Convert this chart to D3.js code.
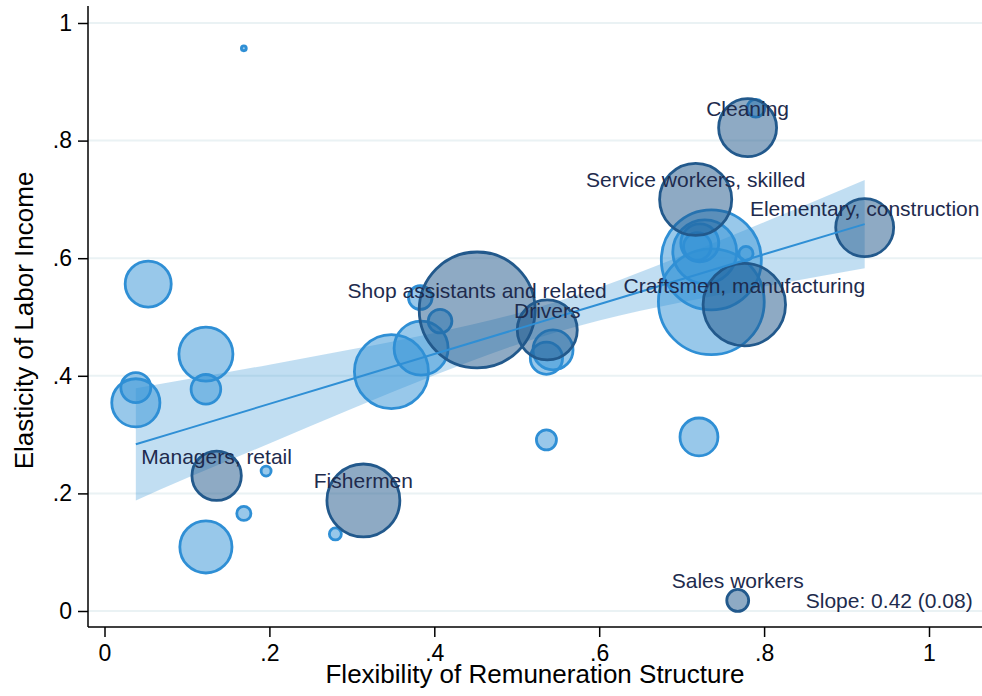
<!DOCTYPE html>
<html lang="en">
<head>
  <meta charset="UTF-8">
  <title>Elasticity of Labor Income vs Flexibility</title>
  <script src="https://d3js.org/d3.v7.min.js"></script>
  <style>
    body { margin: 0; background: #fff; }
    svg { display: block; font-family: "Liberation Sans", Arial, sans-serif; }
  </style>
</head>
<body>
  <svg id="chart" width="982" height="696"></svg>

  <script>
    // unlabeled occupations (light bubbles)
    const otherX = [0.169, 0.053, 0.038, 0.038, 0.123, 0.123, 0.196, 0.169, 0.123, 0.280,
                    0.536, 0.721, 0.348, 0.384, 0.383, 0.407, 0.536, 0.544,
                    0.736, 0.736, 0.728, 0.722, 0.719, 0.778, 0.790];
    const otherY = [0.957, 0.556, 0.380, 0.354, 0.437, 0.377, 0.238, 0.166, 0.109, 0.131,
                    0.291, 0.296, 0.407, 0.447, 0.533, 0.493, 0.430, 0.444,
                    0.597, 0.526, 0.611, 0.626, 0.620, 0.608, 0.855];
    const otherW = [0.06, 5.3, 2.25, 5.8, 7.3, 2.2, 0.25, 0.5, 6.8, 0.36,
                    1.0, 3.6, 13.7, 7.3, 1.4, 1.4, 2.6, 4.0,
                    25, 28, 10.2, 3.6, 1.9, 0.5, 0.8];

    // labeled occupations (dark bubbles)
    const namedLabels = ["Shop assistants and related", "Drivers", "Managers, retail", "Fishermen",
                         "Sales workers", "Cleaning", "Service workers, skilled",
                         "Elementary, construction", "Craftsmen, manufacturing"];
    const namedX = [0.452, 0.537, 0.136, 0.314, 0.768, 0.780, 0.717, 0.922, 0.776];
    const namedY = [0.512, 0.478, 0.230, 0.188, 0.018, 0.822, 0.700, 0.652, 0.521];
    const namedW = [33.6, 9.0, 6.1, 13.3, 1.2, 8.4, 13.0, 8.4, 17.0];

    // fitted line and 95% band
    const bandX  = [0.038, 0.1, 0.2, 0.3, 0.4, 0.5, 0.6, 0.7, 0.8, 0.922];
    const bandLo = [0.188, 0.226, 0.285, 0.344, 0.401, 0.453, 0.494, 0.525, 0.552, 0.583];
    const bandHi = [0.379, 0.394, 0.419, 0.445, 0.473, 0.506, 0.550, 0.604, 0.661, 0.733];
    const fitY   = [0.2835, 0.3098, 0.3522, 0.3946, 0.437, 0.4794, 0.5218, 0.5642, 0.6066, 0.658];

    const slopeNote = "Slope: 0.42 (0.08)";
    const slopeAt = [1.053, 0.005];

    const xTicks = [0, 0.2, 0.4, 0.6, 0.8, 1];
    const yTicks = [0, 0.2, 0.4, 0.6, 0.8, 1];
    const xTitle = "Flexibility of Remuneration Structure";
    const yTitle = "Elasticity of Labor Income";

    const svg = d3.select("#chart");
    const W = 982, H = 696;
    const plot = { left: 88, top: 6, bottom: 627, right: W };

    const x = d3.scaleLinear().domain([0, 1]).range([104.5, 929]);
    const y = d3.scaleLinear().domain([0, 1]).range([611, 23]);
    const r = d3.scaleSqrt().domain([0, 1]).range([0, 10]);

    const fmt = d => d === 0 ? "0" : d === 1 ? "1" : String(d).replace(/^0/, "");

    const lightFill = "rgb(49,145,213)", lightStroke = "#2f8fd5";
    const darkFill = "rgb(29,85,137)", darkStroke = "#22598c";
    const textColor = "#1e2b4d";

    // gridlines
    svg.append("g")
      .selectAll("line")
      .data(yTicks)
      .join("line")
      .attr("x1", plot.left).attr("x2", plot.right)
      .attr("y1", d => y(d)).attr("y2", d => y(d))
      .attr("stroke", "#eaf2f4")
      .attr("stroke-width", 2);

    // confidence band
    const band = bandX.map((v, i) => ({ x: v, lo: bandLo[i], hi: bandHi[i], fit: fitY[i] }));
    svg.append("path")
      .datum(band)
      .attr("d", d3.area().x(d => x(d.x)).y0(d => y(d.lo)).y1(d => y(d.hi)).curve(d3.curveMonotoneX))
      .attr("fill", lightFill)
      .attr("fill-opacity", 0.3);

    // light bubbles, biggest first
    const others = otherX.map((v, i) => ({ x: v, y: otherY[i], w: otherW[i] }))
      .sort((a, b) => b.w - a.w);
    svg.append("g")
      .selectAll("circle")
      .data(others)
      .join("circle")
      .attr("cx", d => x(d.x))
      .attr("cy", d => y(d.y))
      .attr("r", d => Math.max(r(d.w), 1.5))
      .attr("fill", lightFill)
      .attr("fill-opacity", 0.5)
      .attr("stroke", lightStroke)
      .attr("stroke-width", 2.8);

    // labeled bubbles
    const named = namedX.map((v, i) => ({ label: namedLabels[i], x: v, y: namedY[i], w: namedW[i] }));
    svg.append("g")
      .selectAll("circle")
      .data(named)
      .join("circle")
      .attr("cx", d => x(d.x))
      .attr("cy", d => y(d.y))
      .attr("r", d => r(d.w))
      .attr("fill", darkFill)
      .attr("fill-opacity", 0.5)
      .attr("stroke", darkStroke)
      .attr("stroke-width", 2.8);

    // fitted line
    svg.append("path")
      .datum(band)
      .attr("d", d3.line().x(d => x(d.x)).y(d => y(d.fit)))
      .attr("fill", "none")
      .attr("stroke", lightStroke)
      .attr("stroke-width", 2);

    // labels above marker centres
    svg.append("g")
      .selectAll("text")
      .data(named)
      .join("text")
      .attr("x", d => x(d.x))
      .attr("y", d => y(d.y) - 12)
      .attr("text-anchor", "middle")
      .attr("font-size", 21)
      .attr("fill", textColor)
      .text(d => d.label);

    svg.append("text")
      .attr("x", x(slopeAt[0]))
      .attr("y", y(slopeAt[1]))
      .attr("text-anchor", "end")
      .attr("font-size", 21)
      .attr("fill", textColor)
      .text(slopeNote);

    // axes
    const yAxis = svg.append("g")
      .attr("transform", `translate(${plot.left},0)`)
      .call(d3.axisLeft(y).tickValues(yTicks).tickFormat(fmt).tickSize(10).tickPadding(6));
    const xAxis = svg.append("g")
      .attr("transform", `translate(0,${plot.bottom})`)
      .call(d3.axisBottom(x).tickValues(xTicks).tickFormat(fmt).tickSize(10).tickPadding(8));

    [xAxis, yAxis].forEach(g => {
      g.select(".domain").remove();
      g.selectAll(".tick line").attr("stroke", "#000").attr("stroke-width", 1.5);
      g.selectAll(".tick text")
        .attr("font-size", 23)
        .attr("font-family", "'Liberation Sans', Arial, sans-serif")
        .attr("fill", "#000");
    });

    svg.append("line")
      .attr("x1", plot.left).attr("x2", plot.left)
      .attr("y1", plot.top).attr("y2", plot.bottom)
      .attr("stroke", "#000").attr("stroke-width", 1.5);
    svg.append("line")
      .attr("x1", plot.left).attr("x2", plot.right)
      .attr("y1", plot.bottom).attr("y2", plot.bottom)
      .attr("stroke", "#000").attr("stroke-width", 1.5);

    svg.append("text")
      .attr("x", (plot.left + plot.right) / 2)
      .attr("y", 683)
      .attr("text-anchor", "middle")
      .attr("font-size", 26)
      .attr("fill", "#000")
      .text(xTitle);

    svg.append("text")
      .attr("transform", `translate(33,${(plot.top + plot.bottom) / 2 + 4}) rotate(-90)`)
      .attr("text-anchor", "middle")
      .attr("font-size", 26)
      .attr("fill", "#000")
      .text(yTitle);
  </script>
</body>
</html>
